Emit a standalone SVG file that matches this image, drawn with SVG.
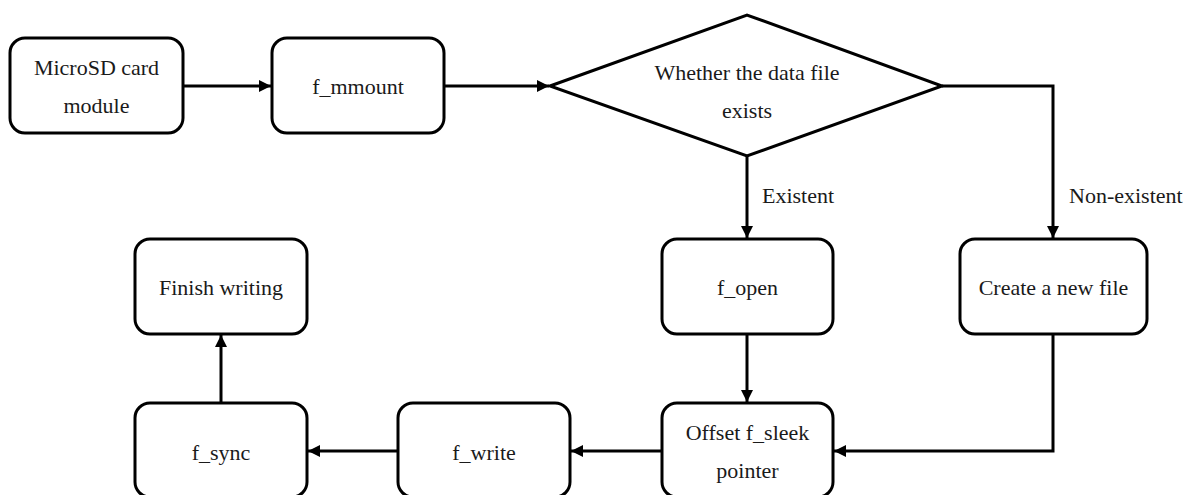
<svg xmlns="http://www.w3.org/2000/svg" width="1189" height="495" viewBox="0 0 1189 495">
<defs>
<style>
.box{fill:#fff;stroke:#000;stroke-width:3}
text{font-size:22px;fill:#1a1a1a}
.t{text-anchor:middle}
.c{fill:none;stroke:#000;stroke-width:3}
</style>
<marker id="ah" viewBox="0 0 12 12" refX="12" refY="6" markerWidth="12" markerHeight="12" markerUnits="userSpaceOnUse" orient="auto">
<path d="M0,0 L12,6 L0,12 z" fill="#000"/>
</marker>
</defs>
<rect width="1189" height="495" fill="#fff"/>
<g font-family="Liberation Serif, serif">
<g id="connectors">
<path class="c" d="M183,86 H271" marker-end="url(#ah)"/>
<path class="c" d="M444,86 H549" marker-end="url(#ah)"/>
<path class="c" d="M747,156 V238" marker-end="url(#ah)"/>
<path class="c" d="M942,86 H1053 V238" marker-end="url(#ah)"/>
<path class="c" d="M747,334 V402" marker-end="url(#ah)"/>
<path class="c" d="M1053,334 V451 H834" marker-end="url(#ah)"/>
<path class="c" d="M662,451 H571" marker-end="url(#ah)"/>
<path class="c" d="M398,451 H308" marker-end="url(#ah)"/>
<path class="c" d="M221,403 V335" marker-end="url(#ah)"/>
<text x="762" y="203">Existent</text>
<text x="1069" y="203">Non-existent</text>
</g>
<g id="microsd">
<rect class="box" x="10" y="38" width="173" height="95" rx="15"/>
<text class="t" x="96.5" y="75">MicroSD card</text>
<text class="t" x="96.5" y="113">module</text>
</g>
<g id="fmmount">
<rect class="box" x="272" y="38" width="172" height="95" rx="15"/>
<text class="t" x="358" y="94">f_mmount</text>
</g>
<g id="decision">
<polygon class="box" points="550,86 747,15 942,86 747,156"/>
<text class="t" x="747" y="80">Whether the data file</text>
<text class="t" x="747" y="118">exists</text>
</g>
<g id="fopen">
<rect class="box" x="662" y="239" width="171" height="95" rx="15"/>
<text class="t" x="747.5" y="295">f_open</text>
</g>
<g id="create">
<rect class="box" x="960" y="239" width="187" height="95" rx="15"/>
<text class="t" x="1053.5" y="295">Create a new file</text>
</g>
<g id="offset">
<rect class="box" x="662" y="403" width="171" height="94" rx="15"/>
<text class="t" x="747.5" y="440">Offset f_sleek</text>
<text class="t" x="747.5" y="478">pointer</text>
</g>
<g id="fwrite">
<rect class="box" x="398" y="403" width="172" height="94" rx="15"/>
<text class="t" x="484" y="460">f_write</text>
</g>
<g id="fsync">
<rect class="box" x="135" y="403" width="172" height="94" rx="15"/>
<text class="t" x="221" y="460">f_sync</text>
</g>
<g id="finish">
<rect class="box" x="135" y="239" width="172" height="95" rx="15"/>
<text class="t" x="221" y="295">Finish writing</text>
</g>
</g>
</svg>
